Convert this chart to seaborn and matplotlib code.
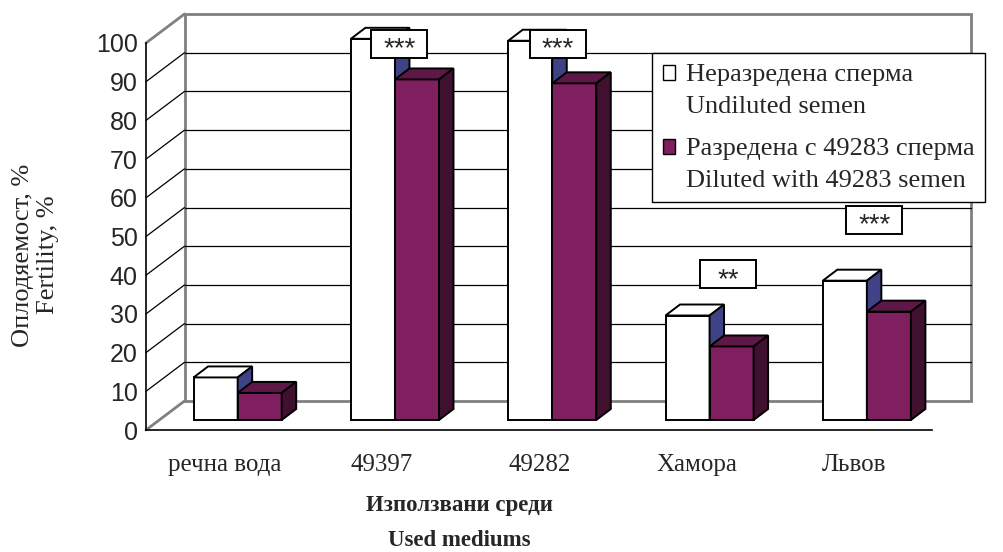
import matplotlib
matplotlib.use("Agg")
import matplotlib.pyplot as plt
import matplotlib.transforms as mtransforms
from matplotlib.patches import Polygon, Rectangle, Patch
from matplotlib.lines import Line2D
from matplotlib.legend_handler import HandlerPatch
import pandas as pd
import seaborn as sns

# ---- data -------------------------------------------------------------
mediums = ["речна вода", "49397", "49282", "Хамора", "Львов"]
undiluted = [11, 98.5, 98, 27, 36]
diluted = [7, 88, 87, 19, 28]
series_names = ["Неразредена сперма\nUndiluted semen",
                "Разредена с 49283 сперма\nDiluted with 49283 semen"]
significance = ["", "***", "***", "**", "***"]
y_ticks = list(range(0, 101, 10))

# where the significance boxes sit (x in category units, y in axis units)
sig_x = [None, 1.11, 2.12, 3.20, 4.13]
sig_y = [None, 99.7, 99.7, 40.2, 54.3]

# ---- figure geometry --------------------------------------------------
W, H, DPI = 1004, 552, 100
FLOOR_DEPTH = (38.5, 29.0)   # front plane -> back wall, pixels
BAR_OFFSET = (13.0, 10.0)    # front plane -> front face of the bars
BAR_DEPTH = (14.5, 11.0)     # thickness of each bar

WHITE = "#FFFFFF"
PLUM = "#7F1F5F"
PLUM_TOP = "#5E1747"
PLUM_SIDE = "#40112F"
WHITE_SIDE = "#3F4386"
FRAME_GREY = "#808080"

SERIF = ["Liberation Serif", "DejaVu Serif"]
SANS = ["Liberation Sans", "DejaVu Sans"]

sns.set_style("white")
plt.rcParams["font.family"] = SERIF

fig = plt.figure(figsize=(W / DPI, H / DPI), dpi=DPI)
ax = fig.add_axes([146 / W, 122 / H, 786.5 / W, 387 / H])

df = pd.DataFrame({
    "medium": mediums * 2,
    "value": undiluted + diluted,
    "series": [series_names[0]] * len(mediums) + [series_names[1]] * len(mediums),
})

sns.barplot(data=df, x="medium", y="value", hue="series",
            palette={series_names[0]: WHITE, series_names[1]: PLUM},
            saturation=1, width=0.56, edgecolor="black", linewidth=1.4,
            errorbar=None, legend=False, ax=ax)
bars = list(ax.patches)

ax.set_xlim(-0.5, 4.5)
ax.set_ylim(0, 100)


def shifted(dx, dy):
    return ax.transData + mtransforms.ScaledTranslation(dx / DPI, dy / DPI,
                                                        fig.dpi_scale_trans)


ident = mtransforms.IdentityTransform()

# ---- back wall and side wall -----------------------------------------
back = shifted(*FLOOR_DEPTH)
ax.add_patch(Rectangle((-0.5, 0), 5, 100, transform=back, fill=False,
                       edgecolor=FRAME_GREY, lw=2, clip_on=False, zorder=1))
for v in y_ticks[1:-1]:
    ax.plot([-0.5, 4.5], [v, v], transform=back, color="black", lw=0.9,
            clip_on=False, zorder=1)
for v in y_ticks:
    x0, y0 = ax.transData.transform((-0.5, v))
    edge = v in (y_ticks[0], y_ticks[-1])
    ax.add_line(Line2D([x0, x0 + FLOOR_DEPTH[0]], [y0, y0 + FLOOR_DEPTH[1]],
                       transform=ident, color=FRAME_GREY if edge else "black",
                       lw=2 if edge else 0.9, clip_on=False, zorder=1))

# ---- 3-D columns --------------------------------------------------------
n = len(mediums)
bar_shift = shifted(*BAR_OFFSET)
for i, p in enumerate(bars):
    diluted_bar = i >= n
    z = 4 if diluted_bar else 3
    p.set_transform(bar_shift)
    p.set_clip_on(False)
    p.set_zorder(z)
    p.set_joinstyle("miter")
    x0, w, h = p.get_x(), p.get_width(), p.get_height()
    xl, yb = bar_shift.transform((x0, 0))
    xr, yt = bar_shift.transform((x0 + w, h))
    dx, dy = BAR_DEPTH
    top = [(xl, yt), (xr, yt), (xr + dx, yt + dy), (xl + dx, yt + dy)]
    side = [(xr, yb), (xr, yt), (xr + dx, yt + dy), (xr + dx, yb + dy)]
    ax.add_patch(Polygon(top, closed=True, transform=ident,
                         facecolor=PLUM_TOP if diluted_bar else WHITE,
                         edgecolor="black", lw=1.4, joinstyle="miter",
                         clip_on=False, zorder=z))
    ax.add_patch(Polygon(side, closed=True, transform=ident,
                         facecolor=PLUM_SIDE if diluted_bar else WHITE_SIDE,
                         edgecolor="black", lw=1.4, joinstyle="miter",
                         clip_on=False, zorder=z))

# ---- significance boxes -------------------------------------------------
for label, sx, sy in zip(significance, sig_x, sig_y):
    if not label:
        continue
    cx, cy = ax.transData.transform((sx, sy))
    ax.add_patch(Rectangle((cx - 28, cy - 14), 56, 28, transform=ident,
                           facecolor="white", edgecolor="black", lw=1.4,
                           clip_on=False, zorder=6))
    ax.text(cx, cy - 12.5, label, transform=ident, ha="center", va="baseline",
            fontsize=20, family=SANS, zorder=7, clip_on=False)

# ---- axes styling -------------------------------------------------------
for side_name in ("top", "right"):
    ax.spines[side_name].set_visible(False)
for side_name in ("left", "bottom"):
    ax.spines[side_name].set_color("black")
    ax.spines[side_name].set_linewidth(1.2)
    ax.spines[side_name].set_zorder(2)

ax.set_yticks(y_ticks)
ax.set_yticklabels([str(v) for v in y_ticks], family=SANS, fontsize=18)
ax.tick_params(axis="y", direction="out", length=3.6, width=1, color="black", pad=2.5)

ax.set_xticks(range(n))
ax.set_xticklabels(mediums, fontsize=18)
ax.set_xticks([k - 0.5 for k in range(n + 1)], minor=True)
ax.tick_params(axis="x", which="major", length=0, pad=17)
ax.tick_params(axis="x", which="minor", direction="out", length=4.3, width=1,
               color="black")

ax.set_ylabel("Оплодяемост, %\nFertility, %", fontsize=19, linespacing=1.2)
ax.yaxis.set_label_coords(-0.11, 0.452)
ax.set_xlabel("Използвани среди\nUsed mediums", fontsize=16.5, fontweight="bold",
              linespacing=1.88)
ax.xaxis.set_label_coords(0.398, -0.169)
ax.patch.set_visible(False)


# ---- legend ---------------------------------------------------------------
class FirstLineSquare(HandlerPatch):
    """Square legend key aligned with the first line of a two-line label."""

    def create_artists(self, legend, orig_handle, xdescent, ydescent, width,
                       height, fontsize, trans):
        lift = 0.66 * fontsize
        r = Rectangle((-xdescent, -ydescent + lift), width, height,
                      facecolor=orig_handle.get_facecolor(),
                      edgecolor="black", lw=1.0)
        r.set_transform(trans)
        return [r]


handles = [Patch(facecolor=WHITE, edgecolor="black"),
           Patch(facecolor=PLUM, edgecolor="black")]
leg = ax.legend(handles, series_names, loc="upper left",
                bbox_to_anchor=(652 / W, 1 - 53 / H), bbox_transform=fig.transFigure,
                frameon=True, fancybox=False, framealpha=1, edgecolor="black",
                borderpad=0.4, labelspacing=0.75, handlelength=0.46,
                handleheight=0.46, handletextpad=0.42, borderaxespad=0,
                prop={"family": SERIF, "size": 19},
                handler_map={Patch: FirstLineSquare()})
leg.get_frame().set_linewidth(1.0)
leg.set_zorder(10)
for t in leg.get_texts():
    t.set_linespacing(1.6)

fig.savefig("out.png", dpi=DPI)
